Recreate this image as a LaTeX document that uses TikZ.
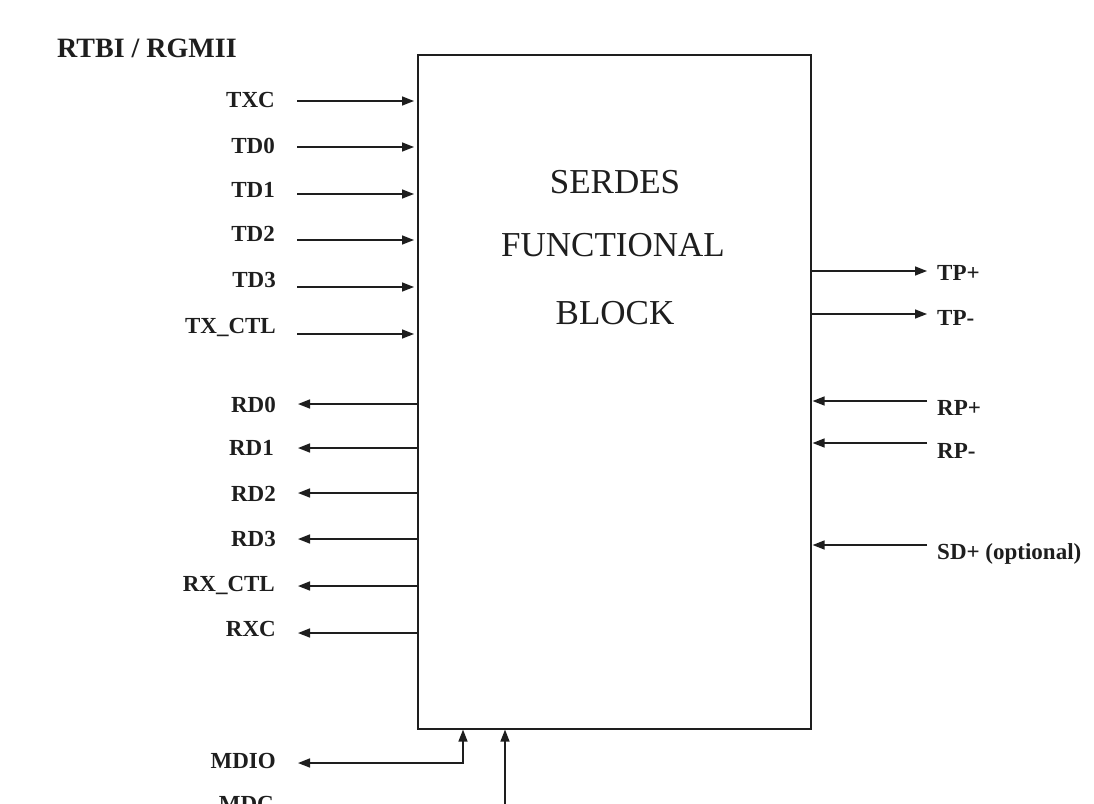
\documentclass[tikz,border=0pt]{standalone}
\usepackage{fontspec}
\setmainfont{Liberation Serif}
\usetikzlibrary{arrows.meta}
\definecolor{ink}{RGB}{30,30,30}
\begin{document}
\begin{tikzpicture}[x=1pt,y=-1pt,
  tip/.tip={Triangle[length=12pt,width=9pt]},
  sig/.style={draw=ink, line width=1.5pt, -tip},
  lbl/.style={font=\bfseries\fontsize{23}{25}\selectfont, text=ink, inner sep=0pt, text height=15pt, text depth=0pt, anchor=east},
  rlbl/.style={lbl, anchor=west},
  ttl/.style={font=\fontsize{35}{40}\selectfont, text=ink, inner sep=0pt, text height=23pt, text depth=0pt}]
\useasboundingbox (0,0) rectangle (1094,803);
\clip (0,0) rectangle (1094,803);
\fill[white] (0,0) rectangle (1094,803);

% main block
\node[draw=ink, line width=1.6pt, minimum width=393pt, minimum height=674pt, inner sep=0pt, anchor=north west] (box) at (417,54) {};
\node[ttl] (t1) at (615,182) {SERDES};
\node[ttl] (t2) at (613,245) {FUNCTIONAL};
\node[ttl] (t3) at (615,313) {BLOCK};

% header
\node[font=\bfseries\fontsize{28}{30}\selectfont, text=ink, inner sep=0pt, text height=18.5pt, text depth=0pt, anchor=west] (hdr) at (57,48) {RTBI / RGMII};

% transmit inputs
\node[lbl] (txc) at (275,100) {TXC};
\node[lbl] (td0) at (275,146) {TD0};
\node[lbl] (td1) at (275,190) {TD1};
\node[lbl] (td2) at (275,234) {TD2};
\node[lbl] (td3) at (276,280) {TD3};
\node[lbl] (txctl) at (276,326) {TX\_CTL};
\coordinate (s1) at (297,101);
\coordinate (s2) at (297,147);
\coordinate (s3) at (297,194);
\coordinate (s4) at (297,240);
\coordinate (s5) at (297,287);
\coordinate (s6) at (297,334);
\foreach \c in {s1,s2,s3,s4,s5,s6}
  \draw[sig, shorten >=3pt] (\c) -- (\c -| box.west);

% receive outputs
\node[lbl] (rd0) at (276,405) {RD0};
\node[lbl] (rd1) at (274,448) {RD1};
\node[lbl] (rd2) at (276,494) {RD2};
\node[lbl] (rd3) at (276,539) {RD3};
\node[lbl] (rxctl) at (275,584) {RX\_CTL};
\node[lbl] (rxc) at (276,629) {RXC};
\coordinate (r1) at (298,404);
\coordinate (r2) at (298,448);
\coordinate (r3) at (298,493);
\coordinate (r4) at (298,539);
\coordinate (r5) at (298,586);
\coordinate (r6) at (298,633);
\foreach \c in {r1,r2,r3,r4,r5,r6}
  \draw[sig] (\c -| box.west) -- (\c);

% right side
\node[rlbl] (tpp) at (937,273) {TP+};
\node[rlbl] (tpm) at (937,318) {TP-};
\node[rlbl] (rpp) at (937,408) {RP+};
\node[rlbl] (rpm) at (937,451) {RP-};
\node[rlbl] (sdp) at (937,552) {SD+ (optional)};
\coordinate (o1) at (927,271);
\coordinate (o2) at (927,314);
\coordinate (i1) at (927,401);
\coordinate (i2) at (927,443);
\coordinate (i3) at (927,545);
\foreach \c in {o1,o2}
  \draw[sig] (\c -| box.east) -- (\c);
\foreach \c in {i1,i2,i3}
  \draw[sig, shorten >=1pt] (\c) -- (\c -| box.east);

% management
\node[lbl] (mdio) at (276,761) {MDIO};
\node[lbl] (mdc) at (274,804) {MDC};
\coordinate (mdioT) at (298,763);
\coordinate (mdioB) at ([xshift=46pt]box.south west);
\coordinate (mdcB) at ([xshift=88pt]box.south west);
\coordinate (mdcE) at (505,830);
\draw[sig, tip-tip] (mdioT) -- (mdioT -| mdioB) -- (mdioB);
\draw[sig] (mdcE) -- (mdcB);
\end{tikzpicture}
\end{document}
